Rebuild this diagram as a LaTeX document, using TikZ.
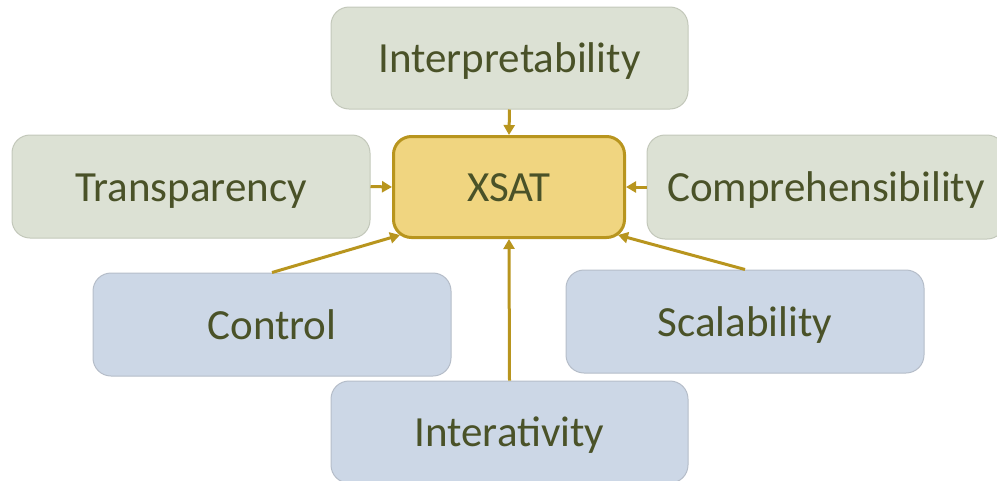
\documentclass[tikz,border=0pt]{standalone}
\usepackage{fontspec}
\setmainfont{Carlito}
\usetikzlibrary{arrows.meta,calc}
\definecolor{gfill}{HTML}{DCE1D4}
\definecolor{gline}{HTML}{C3C8BA}
\definecolor{bfill}{HTML}{CCD7E6}
\definecolor{bline}{HTML}{B5BDC9}
\definecolor{yfill}{HTML}{F0D580}
\definecolor{yline}{HTML}{B8951E}
\definecolor{txt}{HTML}{4A5228}
\tikzset{
  x=1pt,y=-1pt,
  box/.style={rounded corners=18pt, inner sep=0pt, text=txt, font=\fontsize{43}{43}\selectfont, line width=1pt, text height=29pt, text depth=0pt},
  gbox/.style={box, fill=gfill, draw=gline},
  bbox/.style={box, fill=bfill, draw=bline},
  ybox/.style={box, fill=yfill, draw=yline, line width=3pt},
  conn/.style={draw=yline, line width=3pt, -{Triangle[length=10pt,width=11pt]}}
}
\begin{document}
\begin{tikzpicture}
\useasboundingbox (0,0) rectangle (997,480);
\node[gbox, minimum width=357pt, minimum height=102pt] (interp) at (509.5,58) {Interpretability};
\node[ybox, minimum width=231pt, minimum height=101pt] (xsat) at (509,187) {XSAT};
\node[gbox, minimum width=358pt, minimum height=103pt] (transp) at (191,186.5) {Transparency};
\node[gbox, minimum width=358pt, minimum height=104pt] (compr) at (826,187) {Comprehensibility};
\node[bbox, minimum width=358pt, minimum height=103pt] (control) at (272,324.5) {Control};
\node[bbox, minimum width=358pt, minimum height=103pt] (scal) at (745,321.5) {Scalability};
\node[bbox, minimum width=357pt, minimum height=102pt] (inter) at (509.5,432) {Interativity};
\coordinate (swc) at ($(xsat.south west)+(8,-4)$);
\coordinate (sec) at ($(xsat.south east)+(-8,-4)$);
\draw[conn] (interp.south) -- (xsat.north);
\draw[conn] (transp.east) -- (xsat.west);
\draw[conn] (compr.west) -- (xsat.east);
\draw[conn] (control.north) -- (swc);
\draw[conn] (scal.north) -- (sec);
\draw[conn] (inter.north) -- (xsat.south);
\end{tikzpicture}
\end{document}
